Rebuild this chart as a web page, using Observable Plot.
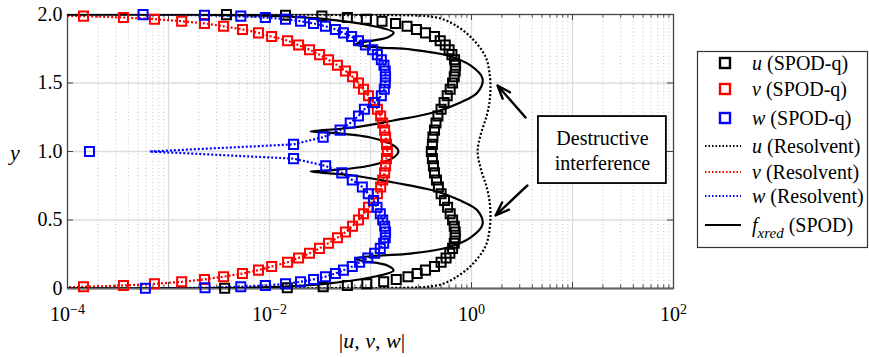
<!DOCTYPE html>
<html><head><meta charset="utf-8">
<script src="https://cdn.jsdelivr.net/npm/d3@7"></script>
<script src="https://cdn.jsdelivr.net/npm/@observablehq/plot@0.6"></script>
<style>
body{margin:0;background:#fff;}
#chart svg{display:block;}
#chart svg text, #chart svg tspan{font-family:"Liberation Serif","DejaVu Serif",serif !important;}
</style></head><body><div id="chart"></div>
<script>
// wall-normal grid for the SPOD-q markers
const yGrid = [0, 0.00137, 0.00548, 0.0123, 0.0219, 0.0341, 0.0489, 0.0664, 0.0865, 0.109, 0.134, 0.161, 0.191, 0.223, 0.257, 0.293, 0.331, 0.371, 0.412, 0.455, 0.5, 0.546, 0.593, 0.642, 0.691, 0.741, 0.792, 0.844, 0.895, 0.948, 1.0, 1.052, 1.105, 1.156, 1.208, 1.259, 1.309, 1.358, 1.407, 1.454, 1.5, 1.545, 1.588, 1.629, 1.669, 1.707, 1.743, 1.777, 1.809, 1.839, 1.866, 1.891, 1.914, 1.935, 1.951, 1.966, 1.978, 1.988, 1.995, 1.999, 2.0];
const uSPOD = [null, 0.0036, 0.015, 0.034, 0.059, 0.092, 0.135, 0.18, 0.235, 0.29, 0.35, 0.43, 0.50, 0.56, 0.61, 0.65, 0.675, 0.69, 0.69, 0.675, 0.65, 0.615, 0.58, 0.54, 0.50, 0.47, 0.45, 0.43, 0.42, 0.41, 0.40, 0.41, 0.415, 0.43, 0.445, 0.465, 0.50, 0.535, 0.575, 0.615, 0.65, 0.675, 0.69, 0.695, 0.68, 0.64, 0.60, 0.55, 0.49, 0.43, 0.35, 0.285, 0.23, 0.177, 0.13, 0.091, 0.059, 0.033, 0.0144, 0.00375, null];
const vSPOD = [null, null, null, 1.44e-4, 3.58e-4, 7.26e-4, 0.00135, 0.00227, 0.00351, 0.0054, 0.00778, 0.0105, 0.0151, 0.0194, 0.0249, 0.0313, 0.0384, 0.0471, 0.0565, 0.0664, 0.076, 0.0853, 0.0955, 0.107, 0.117, 0.126, 0.132, 0.138, 0.141, 0.144, 0.147, 0.144, 0.141, 0.138, 0.132, 0.126, 0.117, 0.107, 0.0955, 0.0853, 0.076, 0.0664, 0.0565, 0.0471, 0.0384, 0.0313, 0.0249, 0.0194, 0.0151, 0.0105, 0.00778, 0.0054, 0.00351, 0.00227, 0.00135, 7.26e-4, 3.58e-4, 1.44e-4, null, null, null];
const wSPOD = [null, 5.9e-4, 0.0023, 0.0052, 0.0091, 0.0144, 0.0203, 0.0273, 0.0358, 0.045, 0.054, 0.066, 0.078, 0.094, 0.11, 0.125, 0.135, 0.14, 0.141, 0.138, 0.132, 0.125, 0.116, 0.107, 0.095, 0.083, 0.066, 0.052, 0.036, 0.0173, 1.65e-4, 0.0173, 0.034, 0.05, 0.063, 0.076, 0.087, 0.11, 0.128, 0.137, 0.14, 0.141, 0.14, 0.136, 0.128, 0.117, 0.105, 0.089, 0.076, 0.065, 0.054, 0.045, 0.0358, 0.0273, 0.0203, 0.0144, 0.0091, 0.0052, 0.00227, 5.6e-4, null];
// resolvent modes
const vRes = [null, null, 5e-5, 1.44e-4, 3.58e-4, 7.26e-4, 0.00135, 0.00227, 0.00351, 0.0054, 0.00778, 0.0105, 0.0151, 0.0194, 0.0249, 0.0313, 0.0384, 0.0471, 0.0565, 0.0664, 0.076, 0.0853, 0.0955, 0.107, 0.117, 0.126, 0.132, 0.138, 0.141, 0.144, 0.147, 0.144, 0.141, 0.138, 0.132, 0.126, 0.117, 0.107, 0.0955, 0.0853, 0.076, 0.0664, 0.0565, 0.0471, 0.0384, 0.0313, 0.0249, 0.0194, 0.0151, 0.0105, 0.00778, 0.0054, 0.00351, 0.00227, 0.00135, 7.26e-4, 3.58e-4, 1.44e-4, 5e-5, null, null];
const wRes = [null, 5.9e-4, 0.0023, 0.0052, 0.0091, 0.0144, 0.0203, 0.0273, 0.0358, 0.045, 0.054, 0.066, 0.078, 0.094, 0.11, 0.125, 0.135, 0.14, 0.141, 0.138, 0.132, 0.125, 0.116, 0.107, 0.095, 0.083, 0.066, 0.052, 0.036, 0.0173, 6.5e-4, 0.0173, 0.034, 0.05, 0.063, 0.076, 0.087, 0.11, 0.128, 0.137, 0.14, 0.141, 0.14, 0.136, 0.128, 0.117, 0.105, 0.089, 0.076, 0.065, 0.054, 0.045, 0.0358, 0.0273, 0.0203, 0.0144, 0.0091, 0.0052, 0.00227, 5.6e-4, null];
const uResY = [0.0005, 0.002, 0.005, 0.012, 0.03, 0.075, 0.17, 0.31, 0.45, 0.55, 0.65, 0.75, 0.87, 1.0, 1.13, 1.25, 1.35, 1.45, 1.55, 1.69, 1.83, 1.925, 1.97, 1.988, 1.995, 1.998, 1.9995];
const uResX = [0.005, 0.04, 0.2, 0.36, 0.5, 0.68, 1.0, 1.38, 1.52, 1.54, 1.5, 1.4, 1.24, 1.15, 1.24, 1.4, 1.5, 1.54, 1.52, 1.38, 1.0, 0.68, 0.5, 0.36, 0.2, 0.04, 0.005];
// f_xred (SPOD)
const fY = [0.0005, 0.002, 0.007, 0.036, 0.08, 0.131, 0.168, 0.204, 0.219, 0.24, 0.255, 0.299, 0.372, 0.467, 0.569, 0.642, 0.715, 0.774, 0.825, 0.854, 0.861, 0.898, 0.956, 1.0, 1.044, 1.102, 1.139, 1.146, 1.175, 1.226, 1.285, 1.358, 1.431, 1.533, 1.628, 1.701, 1.745, 1.76, 1.781, 1.796, 1.832, 1.869, 1.92, 1.964, 1.993, 1.998, 1.9995];
const fX = [1e-4, 0.002, 0.008, 0.0375, 0.1, 0.169, 0.147, 0.08, 0.071, 0.117, 0.249, 0.578, 0.977, 1.285, 1.146, 0.778, 0.42, 0.169, 0.068, 0.0255, 0.0375, 0.1, 0.169, 0.189, 0.169, 0.1, 0.0375, 0.0255, 0.068, 0.169, 0.42, 0.778, 1.146, 1.285, 0.977, 0.578, 0.249, 0.117, 0.071, 0.08, 0.147, 0.169, 0.1, 0.0375, 0.008, 0.002, 1e-4];
// axes
const xTickLabels = [1e-4, 1e-2, 1, 1e2];
const xDecades = [1e-4, 1e-3, 1e-2, 1e-1, 1, 10, 100];
const yTicks = [0, 0.5, 1, 1.5, 2];
// annotation
const noteBox = [{x1: 4.6, x2: 85, y1: 0.766, y2: 1.255}];
const noteLines = ["Destructive", "interference"];
const noteLineY = [1.095, 0.912];
const noteX = 19.8;
const noteArrows = [{x1: 3.43, y1: 1.248, x2: 1.81, y2: 1.482}, {x1: 3.58, y1: 0.752, x2: 1.73, y2: 0.533}];

const FONT = '"Liberation Serif","DejaVu Serif",serif';
const toRows = (vals) => yGrid.map((y, i) => ({y, v: vals[i]})).filter(d => d.v != null);
const minorTicks = [];
for (const d of xDecades.slice(0, -1)) for (let m = 2; m <= 9; m++) minorTicks.push(m * d);
const PW = 869 - 67 - 196, PH = 357 - 14 - 69;
const dotted = {strokeWidth: 2.2, strokeDasharray: "2,2", strokeLinecap: "butt", clip: true};
const squares = {x: "v", y: "y", symbol: "square", r: 5.1, strokeWidth: 2, fill: "none"};

const plot = Plot.plot({
  width: 869, height: 357,
  marginLeft: 67, marginRight: 196, marginTop: 14, marginBottom: 69,
  x: {type: "log", domain: [1e-4, 1e2]},
  y: {domain: [0, 2]},
  style: {fontSize: "20px", background: "#fff", color: "#000"},
  marks: [
    Plot.ruleX(minorTicks, {stroke: "#c4c4c4", strokeDasharray: "1,2.5", strokeWidth: 1}),
    Plot.ruleX(xDecades.slice(1, -1), {stroke: "#dcdcdc", strokeWidth: 1.3}),
    Plot.ruleY([0.5, 1, 1.5], {stroke: "#dcdcdc", strokeWidth: 1.3}),
    Plot.tickX(xDecades, {insetTop: PH - 6, stroke: "#444", strokeWidth: 1}),
    Plot.tickX(minorTicks, {insetTop: PH - 3.5, stroke: "#444", strokeWidth: 1}),
    Plot.tickX(xDecades, {insetBottom: PH - 6, stroke: "#444", strokeWidth: 1}),
    Plot.tickX(minorTicks, {insetBottom: PH - 3.5, stroke: "#444", strokeWidth: 1}),
    Plot.tickY(yTicks, {insetRight: PW - 6, stroke: "#444", strokeWidth: 1}),
    Plot.tickY(yTicks, {insetLeft: PW - 6, stroke: "#444", strokeWidth: 1}),
    Plot.frame({stroke: "#444", strokeWidth: 1.3}),
    Plot.ruleY([0], {stroke: "#666", strokeWidth: 2}),
    Plot.axisY({ticks: yTicks, tickSize: 0, tickPadding: 5, fontSize: 20, label: null,
      tickFormat: d => d === 0 ? "0" : d.toFixed(1)}),
    Plot.axisX({ticks: xTickLabels, tickSize: 0, tickPadding: 18, fontSize: 20, label: null,
      tickFormat: d => "10^" + Math.round(Math.log10(d))}),
    Plot.line(uResY.map((y, i) => ({y, v: uResX[i]})), {x: "v", y: "y", stroke: "black", curve: "catmull-rom", ...dotted}),
    Plot.line(toRows(vRes), {x: "v", y: "y", stroke: "#ff0000", ...dotted}),
    Plot.line(toRows(wRes), {x: "v", y: "y", stroke: "#0000ff", ...dotted}),
    Plot.line(fY.map((y, i) => ({y, v: fX[i]})), {x: "v", y: "y", stroke: "black", strokeWidth: 2.2, curve: "catmull-rom", clip: true}),
    Plot.dot(toRows(uSPOD), {...squares, stroke: "black"}),
    Plot.dot(toRows(vSPOD), {...squares, stroke: "#ff0000"}),
    Plot.dot(toRows(wSPOD), {...squares, stroke: "#0000ff"}),
    Plot.rect(noteBox, {x1: "x1", x2: "x2", y1: "y1", y2: "y2", fill: "white", stroke: "black", strokeWidth: 1.8}),
    Plot.text(noteLines, {x: () => noteX, y: (d, i) => noteLineY[i], text: d => d, fontSize: 20, fill: "black"}),
    Plot.arrow(noteArrows, {x1: "x1", y1: "y1", x2: "x2", y2: "y2", stroke: "black", strokeWidth: 2.4, headLength: 13, headAngle: 40})
  ]
});

const svg = d3.select(plot);
svg.attr("font-family", FONT);
// superscript exponents on x tick labels
svg.selectAll('g[aria-label="x-axis tick label"] text').each(function() {
  const s = this.textContent;
  const exp = s.split("^")[1].replace("-", "\u2212");
  const t = d3.select(this);
  t.text(null);
  t.append("tspan").text("10");
  t.append("tspan").attr("dy", "-0.5em").attr("font-size", "14px").text(exp);
});
// axis titles
svg.append("text").attr("x", 15).attr("y", 160).attr("text-anchor", "middle")
  .attr("font-size", 22).attr("font-style", "italic").text("y");
const xl = svg.append("text").attr("x", 372).attr("y", 348).attr("text-anchor", "middle").attr("font-size", 22);
[["|", false], ["u", true], [", ", false], ["v", true], [", ", false], ["w", true], ["|", false]]
  .forEach(([s, it]) => xl.append("tspan").attr("font-style", it ? "italic" : "normal").text(s));

// legend
const legendItems = [
  {sym: "u", rest: " (SPOD-q)", color: "black", kind: "square", y: 63},
  {sym: "v", rest: " (SPOD-q)", color: "#ff0000", kind: "square", y: 89},
  {sym: "w", rest: " (SPOD-q)", color: "#0000ff", kind: "square", y: 118},
  {sym: "u", rest: " (Resolvent)", color: "black", kind: "dot", y: 146},
  {sym: "v", rest: " (Resolvent)", color: "#ff0000", kind: "dot", y: 172},
  {sym: "w", rest: " (Resolvent)", color: "#0000ff", kind: "dot", y: 196},
  {sym: "f", sub: "xred", rest: " (SPOD)", color: "black", kind: "solid", y: 225}
];
const lg = svg.append("g").attr("font-size", 20).attr("text-anchor", "start");
lg.append("rect").attr("x", 697.5).attr("y", 51.5).attr("width", 170).attr("height", 196)
  .attr("fill", "white").attr("stroke", "#333").attr("stroke-width", 1.2);
for (const it of legendItems) {
  if (it.kind === "square") {
    lg.append("rect").attr("x", 720).attr("y", it.y - 5).attr("width", 10).attr("height", 10)
      .attr("fill", "none").attr("stroke", it.color).attr("stroke-width", 2.4);
  } else {
    lg.append("line").attr("x1", 705).attr("x2", 741).attr("y1", it.y).attr("y2", it.y)
      .attr("stroke", it.color).attr("stroke-width", it.kind === "solid" ? 2.2 : 2)
      .attr("stroke-dasharray", it.kind === "solid" ? null : "1.5,2");
  }
  const t = lg.append("text").attr("x", 752).attr("y", it.y + 7);
  t.append("tspan").attr("font-style", "italic").text(it.sym);
  if (it.sub) {
    t.append("tspan").attr("font-style", "italic").attr("font-size", 15).attr("dy", 6).text(it.sub);
    t.append("tspan").attr("dy", -6).text(it.rest);
  } else {
    t.append("tspan").text(it.rest);
  }
}
document.getElementById("chart").appendChild(plot);
</script>
</body></html>
